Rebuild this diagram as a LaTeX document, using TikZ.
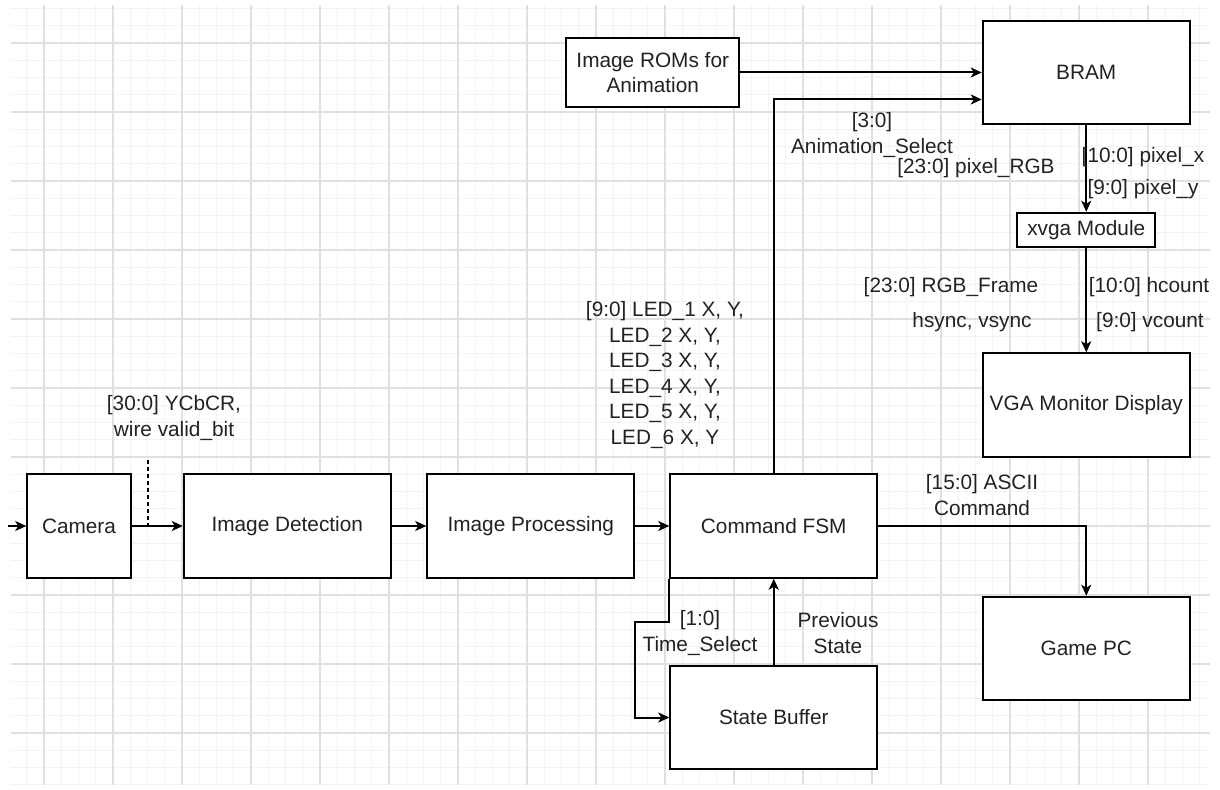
\documentclass[tikz,border=0pt]{standalone}
\usepackage{fontspec}
\setmainfont{Liberation Sans}
\usepackage{tikz}
\usetikzlibrary{arrows.meta,positioning}
\definecolor{gridmajor}{RGB}{224,224,224}
\definecolor{gridminor}{RGB}{243,243,243}
\definecolor{inkgray}{RGB}{34,34,34}

\begin{document}
\begin{tikzpicture}[x=0.5pt, y=-0.5pt,
  font=\fontsize{10.4pt}{12.75pt}\selectfont,
  blk/.style={rectangle, draw=black, line width=1pt, fill=white, text=inkgray,
              minimum width=103.5pt, minimum height=51.75pt, inner sep=0pt, align=center},
  smallblk/.style={blk, minimum width=69pt, minimum height=17.25pt},
  lbl/.style={align=center, inner sep=1pt, text=inkgray},
  arr/.style={-{Stealth[length=5.5pt, width=5pt, inset=1.5pt]}, line width=1pt},
  tap/.style={line width=0.8pt, dash pattern=on 2pt off 1.5pt}
]
  \useasboundingbox (0,0) rectangle (1220,790);
  % background grid
  \begin{scope}[shift={(44,43)}]
    \draw[gridminor, line width=0.5pt, step=8.625pt] (-33,-38) grid (1166,742);
    \draw[gridmajor, line width=0.6pt, step=34.5pt] (-33,-38) grid (1166,742);
  \end{scope}

  \node[blk, minimum width=51.75pt] (cam) at (79,526) {Camera};
  \node[blk, right=25.5pt of cam]    (detect) {Image Detection};
  \node[blk, right=17.25pt of detect] (proc)  {Image Processing};
  \node[blk, right=17pt of proc]     (fsm)   {Command FSM};
  \node[blk, below=43pt of fsm]      (buf)   {State Buffer};
  \node[blk, below right=8.5pt and 51.75pt of fsm] (pc) {Game PC};
  \node[blk, above=69pt of pc]       (vga)   {VGA Monitor Display};
  \node[smallblk, above=52pt of vga] (xvga)  {xvga Module};
  \node[blk, above=43.25pt of xvga]  (bram)  {BRAM};
  \node[blk, minimum width=86.5pt, minimum height=34.5pt,
        left=120.75pt of bram]       (roms)  {Image ROMs for\\Animation};

  % main chain
  \coordinate (src) at (8,526);
  \draw[arr] (src) -- (cam);
  \draw[arr] (cam) -- (detect);
  \draw[arr] (detect) -- (proc);
  \draw[arr] (proc) -- (fsm);
  \coordinate (tapin) at (148,460);
  \draw[tap] (tapin) -- (tapin |- cam.east);

  % display path
  \draw[arr] (roms) -- (bram);
  \draw[arr] (fsm.north) |- ([yshift=-13.5pt]bram.west);
  \draw[arr] (bram) -- (xvga);
  \draw[arr] (xvga) -- (vga);
  \draw[arr] (fsm) -| (pc);

  % state loop
  \draw[arr] (buf) -- (fsm);
  \draw[arr] (fsm.south west) -- ++(0,-21.5pt) -- ++(-17pt,0) |- (buf.west);

  % signal labels
  \node[lbl] (ycbcr)    at (174,418)  {[30:0] YCbCR,\\wire valid\_bit};
  \node[lbl] (ledxy)    at (665,375)  {[9:0] LED\_1 X, Y,\\LED\_2 X, Y,\\LED\_3 X, Y,\\LED\_4 X, Y,\\LED\_5 X, Y,\\LED\_6 X, Y};
  \node[lbl] (animsel)  at (872,135)  {[3:0]\\Animation\_Select};
  \node[lbl] (pixrgb)   at (976,168)  {[23:0] pixel\_RGB};
  \node[lbl] (pixx)     at (1143,157) {[10:0] pixel\_x};
  \node[lbl] (pixy)     at (1143,189) {[9:0] pixel\_y};
  \node[lbl] (rgbframe) at (951,287)  {[23:0] RGB\_Frame};
  \node[lbl] (syncs)    at (972,322)  {hsync, vsync};
  \node[lbl] (hcnt)     at (1149,287) {[10:0] hcount};
  \node[lbl] (vcnt)     at (1150,322) {[9:0] vcount};
  \node[lbl] (ascii)    at (982,495)  {[15:0] ASCII\\Command};
  \node[lbl] (timesel)  at (700,633)  {[1:0]\\Time\_Select};
  \node[lbl] (prevst)   at (838,633)  {Previous\\State};
\end{tikzpicture}
\end{document}
